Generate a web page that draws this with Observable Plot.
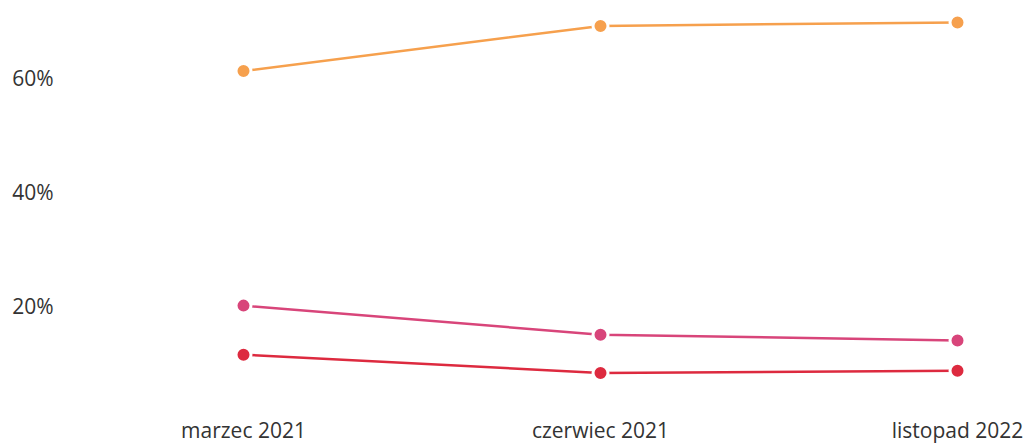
<!DOCTYPE html>
<html>
<head>
<meta charset="utf-8">
<script src="https://cdn.jsdelivr.net/npm/d3@7"></script>
<script src="https://cdn.jsdelivr.net/npm/@observablehq/plot@0.6"></script>
<style>
  html, body { margin: 0; padding: 0; background: #fff; }
  #chart svg { display: block; font-family: "Open Sans", sans-serif; }
</style>
</head>
<body>
<div id="chart"></div>
<script>
const periods = ["marzec 2021", "czerwiec 2021", "listopad 2022"];
const seriesNames = ["Seria A", "Seria B", "Seria C"];
const seriesColors = ["#f6a04d", "#d8457a", "#dd2a3f"];
const valuesA = [61.4, 69.3, 69.9];
const valuesB = [20.3, 15.2, 14.2];
const valuesC = [11.7, 8.5, 8.9];
const yTicks = [20, 40, 60];

const allValues = [valuesA, valuesB, valuesC];
const data = [];
seriesNames.forEach((s, i) => {
  periods.forEach((p, j) => data.push({series: s, period: p, value: allValues[i][j]}));
});

const chart = Plot.plot({
  width: 1029,
  height: 446,
  marginLeft: 60,
  insetLeft: 183,
  marginRight: 72,
  marginTop: 10,
  marginBottom: 25,
  style: {fontSize: "21px", fontFamily: "'Open Sans', sans-serif", color: "#333", background: "#fff"},
  x: {type: "point", domain: periods, padding: 0, label: null},
  y: {domain: [0, 72], label: null},
  color: {domain: seriesNames, range: seriesColors},
  marks: [
    Plot.axisX({tickSize: 0, tickPadding: 2, label: null, fill: "#333", fontSize: 21}),
    Plot.axisY({ticks: yTicks, tickSize: 0, tickPadding: 7, tickFormat: d => d + "%", label: null, fill: "#333", fontSize: 21}),
    Plot.line(data, {x: "period", y: "value", z: "series", stroke: "series", strokeWidth: 2.5}),
    Plot.dot(data, {x: "period", y: "value", fill: "series", r: 7.5, stroke: "white", strokeWidth: 3})
  ]
});
document.getElementById("chart").append(chart);
</script>
</body>
</html>
